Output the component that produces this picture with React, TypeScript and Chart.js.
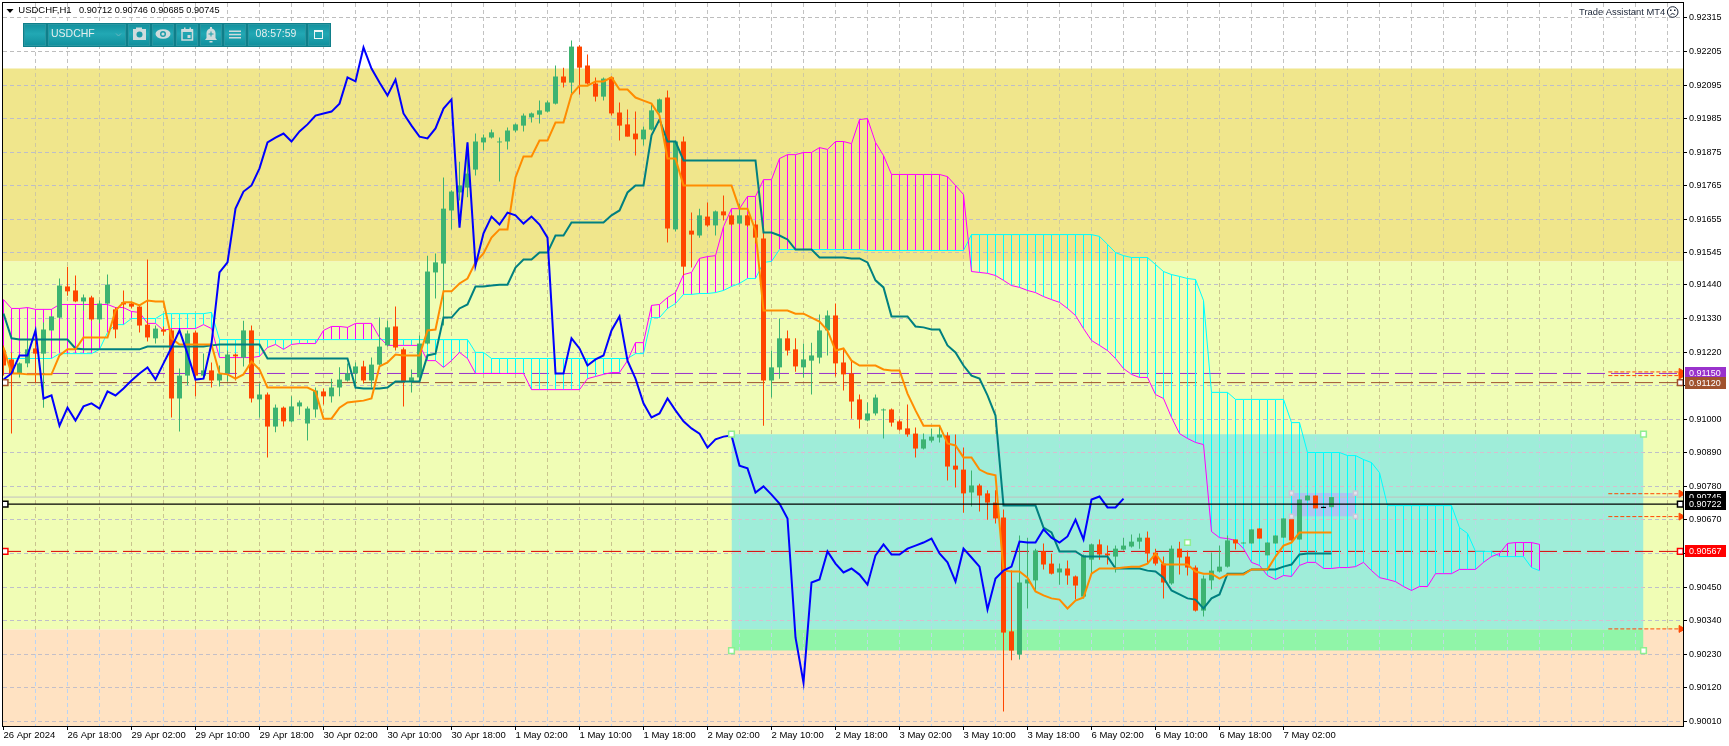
import React, { useEffect, useRef } from "react";
import { Chart, registerables } from "chart.js";

Chart.register(...registerables);

// All prices are written in points (1 point = 0.00001).
const opens = [
91225,91196,91150,91183,91232,91215,91291,91333,91435,91422,
91386,91399,91327,91379,91360,91383,91379,91369,91310,91265,
91294,91291,91068,91143,91284,91143,91160,91127,91150,91212,
91202,91291,91065,91081,90976,91038,90993,91042,90986,91032,
91091,91075,91104,91127,91150,91173,91127,91179,91242,91304,
91229,91124,91137,91248,91481,91510,91684,91743,91759,91818,
91907,91923,91907,91910,91946,91962,91989,91998,92008,92034,
92123,92103,92221,92159,92100,92057,92120,92005,91966,91936,
91917,91949,92005,92054,91622,91910,91618,91602,91664,91635,
91681,91668,91641,91668,91638,91592,91127,91170,91265,91229,
91170,91192,91202,91291,91340,91186,91150,91065,90996,91019,
91029,91032,90993,90970,90953,90904,90930,90940,90947,90848,
90835,90760,90783,90757,90727,90678,90305,90229,90462,90472,
90567,90527,90498,90511,90485,90419,90540,90590,90560,90550,
90573,90583,90599,90612,90563,90527,90462,90576,90550,90514,
90373,90472,90501,90517,90606,90593,90593,90642,90554,90593,
90612,90675,90606,90734,90750,90709,90712];
const closes = [
91176,91150,91183,91229,91215,91294,91337,91438,91419,91386,
91399,91327,91379,91441,91294,91376,91369,91307,91268,91297,
91287,91068,91143,91281,91143,91160,91127,91150,91212,91206,
91291,91068,91081,90976,91038,90993,91042,91055,91035,91094,
91075,91104,91130,91150,91173,91127,91179,91238,91301,91235,
91124,91137,91248,91484,91514,91690,91746,91766,91805,91910,
91923,91940,91910,91946,91966,91995,92002,92012,92038,92123,
92103,92221,92152,92100,92057,92116,92002,91962,91926,91917,
91949,92012,92048,91625,91910,91500,91605,91668,91635,91681,
91668,91638,91668,91635,91595,91127,91170,91265,91225,91173,
91196,91209,91291,91340,91183,91147,91058,90999,91019,91071,
91032,90989,90966,90950,90904,90934,90943,90950,90845,90835,
90757,90783,90750,90727,90675,90301,90242,90465,90475,90570,
90524,90494,90511,90488,90455,90554,90590,90557,90554,90576,
90586,90599,90612,90560,90527,90465,90576,90547,90514,90373,
90478,90504,90517,90603,90593,90596,90639,90609,90596,90619,
90675,90603,90737,90750,90708,90713,90745];
const highs = [
91242,91219,91186,91258,91291,91317,91337,91461,91500,91471,
91409,91405,91389,91474,91366,91422,91386,91373,91523,91307,
91304,91297,91166,91291,91291,91215,91186,91176,91225,91215,
91323,91307,91117,91088,91048,91042,91075,91061,91042,91104,
91101,91133,91170,91183,91186,91192,91202,91333,91323,91369,
91235,91163,91274,91536,91543,91792,91750,91844,91907,91936,
91933,91949,91923,91956,91969,92002,92005,92044,92044,92159,
92152,92241,92225,92195,92120,92120,92123,92038,92015,92008,
91959,92034,92051,92077,91913,91926,91677,91690,91710,91684,
91733,91671,91707,91671,91651,91612,91225,91330,91291,91265,
91248,91251,91343,91356,91379,91229,91192,91081,91055,91081,
91035,91035,90999,91048,90973,90953,90970,90976,90957,90950,
90907,90832,90789,90767,90767,90704,90504,90619,90612,90576,
90593,90560,90527,90537,90488,90557,90593,90606,90586,90586,
90612,90622,90626,90632,90576,90550,90586,90599,90570,90521,
90488,90563,90586,90619,90606,90596,90639,90642,90596,90619,
90675,90675,90737,90750,90750,90713,90745];
const lows = [
91143,90953,91137,91170,91120,91038,91291,91330,91405,91383,
91356,91323,91314,91376,91265,91363,91363,91284,91255,91248,
91274,91006,90960,91111,91075,91133,91104,91107,91124,91127,
91173,91055,91006,90875,90957,90976,90989,91015,90930,91006,
91048,91055,91075,91124,91101,91117,91104,91176,91238,91225,
91042,91088,91133,91245,91396,91307,91622,91717,91727,91799,
91881,91920,91779,91884,91940,91943,91972,91969,92005,92031,
92087,92067,92064,92097,92041,92044,91995,91913,91926,91864,
91897,91946,92002,91579,91615,91471,91497,91595,91631,91602,
91651,91635,91638,91631,91576,90979,91071,91133,91209,91156,
91137,91081,91183,91209,91140,91094,91002,90970,90993,91012,
90937,90976,90963,90943,90875,90901,90924,90924,90799,90776,
90694,90714,90698,90671,90658,90042,90210,90213,90380,90439,
90508,90491,90458,90458,90409,90413,90494,90540,90524,90498,
90570,90580,90576,90527,90521,90413,90458,90491,90488,90370,
90354,90442,90498,90514,90573,90593,90593,90609,90554,90593,
90612,90603,90606,90734,90708,90709,90712];
const chikou = [
91130,91150,91209,91209,91291,91068,91078,90979,91038,90996,
91042,91052,91035,91091,91078,91101,91127,91150,91170,91130,
91183,91235,91291,91215,91130,91133,91248,91481,91514,91690,
91746,91766,91822,91907,91923,91936,91910,91943,91966,91995,
92002,92008,92034,92120,92107,92218,92149,92103,92061,92113,
92002,91962,91926,91920,91953,92018,92048,91628,91907,91504,
91609,91664,91638,91677,91668,91641,91664,91638,91595,91150,
91150,91265,91232,91176,91196,91209,91291,91337,91192,91133,
91052,91006,91019,91068,91029,90993,90970,90953,90907,90934,
90943,90947,90848,90839,90760,90780,90753,90724,90675,90285,
90137,90465,90475,90567,90527,90498,90511,90491,90458,90554,
90590,90557,90557,90576,90586,90596,90609,90560,90531,90468,
90576,90547,90517,90377,90478,90504,90517,90599,90596,90596,
90639,90612,90596,90616,90671,90606,90737,90747,90711,90711,
90740];
const tenkan = [
91235,91150,91150,91147,91147,91147,91147,91209,91229,91229,
91268,91268,91268,91268,91356,91383,91383,91373,91389,91386,
91386,91265,91245,91245,91245,91245,91245,91150,91147,91133,
91147,91189,91163,91104,91104,91104,91104,91104,91104,91091,
91002,91002,91038,91055,91058,91061,91068,91173,91186,91212,
91209,91209,91209,91291,91294,91419,91419,91445,91461,91514,
91543,91595,91622,91622,91792,91861,91861,91913,91913,91972,
91972,92064,92093,92093,92107,92107,92120,92080,92080,92054,
92044,92034,91995,91854,91854,91766,91766,91766,91766,91766,
91766,91766,91690,91690,91618,91356,91356,91356,91356,91346,
91346,91333,91320,91291,91225,91232,91192,91176,91176,91176,
91163,91160,91160,91084,91029,90979,90979,90979,90921,90914,
90875,90875,90835,90822,90816,90504,90501,90501,90481,90436,
90423,90413,90409,90380,90406,90416,90494,90511,90511,90511,
90514,90517,90517,90527,90560,90524,90524,90524,90524,90501,
90494,90494,90478,90491,90491,90491,90508,90508,90508,90550,
90586,90596,90629,90629,90629,90629,90629];
const kijun = [
91346,91265,91261,91261,91261,91261,91261,91261,91261,91232,
91229,91229,91229,91229,91229,91229,91229,91229,91238,91238,
91238,91238,91238,91238,91238,91238,91242,91245,91245,91245,
91245,91245,91245,91199,91199,91199,91199,91199,91199,91199,
91199,91199,91199,91199,91104,91101,91101,91101,91104,91124,
91124,91124,91124,91209,91215,91333,91333,91363,91376,91435,
91435,91438,91441,91441,91497,91523,91523,91546,91546,91602,
91602,91645,91645,91645,91645,91645,91668,91684,91743,91766,
91766,91930,91982,91910,91910,91848,91848,91848,91848,91848,
91848,91848,91848,91848,91848,91612,91612,91602,91589,91556,
91556,91556,91530,91530,91530,91530,91527,91527,91514,91455,
91432,91337,91337,91337,91304,91301,91294,91294,91242,91219,
91176,91143,91133,91078,91012,90717,90717,90717,90717,90717,
90645,90629,90567,90567,90567,90550,90550,90550,90550,90511,
90511,90511,90511,90504,90501,90481,90439,90426,90413,90409,
90380,90413,90426,90494,90494,90494,90508,90508,90508,90508,
90517,90524,90557,90560,90560,90560,90560];
const spanMagenta = [
91392,91363,91363,91366,91360,91360,91360,91376,91376,91376,
91376,91376,91376,91376,91366,91366,91353,91350,91314,91314,
91291,91297,91297,91297,91297,91310,91297,91202,91202,91202,
91202,91202,91206,91235,91245,91229,91245,91248,91248,91248,
91291,91304,91304,91301,91314,91314,91314,91268,91242,91242,
91242,91242,91242,91192,91192,91170,91192,91219,91199,91150,
91150,91150,91150,91150,91150,91150,91097,91097,91097,91097,
91097,91097,91097,91133,91140,91147,91153,91153,91192,91251,
91251,91373,91376,91399,91415,91474,91481,91527,91533,91536,
91631,91690,91690,91730,91730,91785,91785,91854,91867,91867,
91874,91874,91890,91884,91910,91910,91903,91982,91985,91907,
91864,91802,91802,91802,91802,91802,91802,91802,91795,91766,
91736,91484,91481,91478,91471,91455,91438,91432,91422,91415,
91402,91392,91383,91363,91340,91297,91258,91242,91225,91199,
91166,91147,91137,91137,91081,91068,91006,90953,90937,90924,
90917,90632,90612,90609,90603,90576,90531,90521,90488,90475,
90488,90485,90521,90531,90531,90511,90511,90514,90514,90517,
90531,90504,90481,90475,90468,90452,90439,90452,90452,90494,
90494,90494,90508,90508,90508,90531,90550,90560,90593,90596,
90596,90596,90590];
const spanCyan = [
91199,91199,91199,91199,91199,91199,91199,91215,91215,91215,
91215,91215,91229,91284,91310,91310,91330,91330,91330,91330,
91346,91346,91346,91346,91346,91346,91350,91261,91261,91261,
91261,91261,91261,91261,91261,91261,91261,91261,91261,91261,
91261,91261,91261,91261,91261,91261,91261,91261,91261,91261,
91261,91261,91261,91261,91261,91261,91261,91261,91261,91219,
91219,91199,91199,91199,91199,91199,91199,91199,91199,91199,
91199,91199,91199,91199,91199,91199,91199,91199,91199,91215,
91215,91333,91333,91363,91379,91409,91409,91412,91412,91415,
91422,91435,91445,91461,91461,91514,91517,91556,91556,91556,
91556,91556,91556,91556,91556,91556,91556,91556,91553,91553,
91553,91553,91553,91553,91553,91553,91553,91553,91553,91553,
91553,91605,91605,91605,91605,91605,91605,91605,91605,91605,
91605,91605,91605,91605,91605,91605,91605,91599,91573,91546,
91536,91530,91530,91530,91507,91484,91474,91468,91461,91458,
91389,91088,91088,91088,91065,91065,91065,91065,91065,91065,
91065,90989,90989,90891,90891,90891,90891,90891,90881,90881,
90868,90858,90825,90717,90717,90717,90717,90717,90717,90717,
90717,90717,90645,90626,90567,90567,90567,90550,90550,90550,
90550,90514,90504];

const xTickLabels = [
  "26 Apr 2024", "26 Apr 18:00", "29 Apr 02:00", "29 Apr 10:00", "29 Apr 18:00", "30 Apr 02:00", "30 Apr 10:00",
  "30 Apr 18:00", "1 May 02:00", "1 May 10:00", "1 May 18:00", "2 May 02:00", "2 May 10:00", "2 May 18:00",
  "3 May 02:00", "3 May 10:00", "3 May 18:00", "6 May 02:00", "6 May 10:00", "6 May 18:00", "7 May 02:00",
];
const yTickValues = [
  92315, 92205, 92095, 91985, 91875, 91765, 91655, 91545, 91440, 91330, 91220,
  91110, 91000, 90890, 90780, 90670, 90560, 90450, 90340, 90230, 90120, 90010,
];
const priceBoxes = [
  { value: 91150, bg: "#9932CC" },
  { value: 91120, bg: "#A0522D" },
  { value: 90745, bg: "#000000" },
  { value: 90722, bg: "#000000" },
  { value: 90567, bg: "#FF0000" },
];
const khakiZone = [91517, 92149];
const yellowZone = [90311, 91517];
const teal = [90311, 90951];
const overlap = [90242, 90311];
const smallBox = [90682, 90758];
const rectBars = [91, 205];
const smallBars = [161, 169];
const arrowLevels = [91155, 91143, 90756, 90681, 90313];
const arrowBars = [200.6, 209.7];
const bidLevel = 90745;
const purpleLevel = 91150;
const brownLevel = 91120;
const blackLevel = 90722;
const redLevel = 90567;

const X_MIN = -0.0625;
const X_MAX = 209.9375;
const Y_MIN = 89994.9;
const Y_MAX = 92363.8;
const FONT = '"Liberation Sans"';
const GREEN = "#3CB371";
const RED = "#FF4500";
const pr = (p: number) => p / 100000;

const horizontal = (level: number, color: string, order: number, dash: number[] = [], width = 1) => ({
  type: "line" as const,
  data: [{ x: X_MIN, y: pr(level) }, { x: X_MAX, y: pr(level) }],
  borderColor: color,
  borderWidth: width,
  borderDash: dash,
  pointRadius: 0,
  order,
});

const zone = (label: string, range: number[], xr: number[], color: string, order: number) => ({
  type: "line" as const,
  label,
  data: [{ x: xr[0], y: pr(range[1]) }, { x: xr[1], y: pr(range[1]) }],
  borderWidth: 0,
  borderColor: "transparent",
  backgroundColor: color,
  fill: { target: { value: pr(range[0]) }, above: color, below: color },
  pointRadius: 0,
  order,
});

const series = (values: number[], color: string, width: number, order: number) => ({
  type: "line" as const,
  data: values.map((v, i) => ({ x: i, y: pr(v) })),
  borderColor: color,
  borderWidth: width,
  borderJoinStyle: "miter" as const,
  pointRadius: 0,
  tension: 0,
  order,
});

const bars = (data: any[], colors: string[], width: number, order: number) => ({
  type: "bar" as const,
  data,
  backgroundColor: colors,
  maxBarThickness: width,
  barPercentage: 1,
  categoryPercentage: 1,
  grouped: false,
  borderWidth: 0,
  inflateAmount: 0,
  order,
});

const handles = (pts: number[][], color: string, fill: string, order: number, radius = 4) => ({
  type: "line" as const,
  data: pts.map(([x, y]) => ({ x, y: pr(y) })),
  showLine: false,
  pointStyle: "rect",
  pointRadius: radius,
  pointBorderWidth: 1.5,
  pointBorderColor: color,
  pointBackgroundColor: fill,
  order,
});

function bandList(y: any, x: any, area: any) {
  const full = [area.left, area.right];
  const r = [x.getPixelForValue(rectBars[0]), x.getPixelForValue(rectBars[1])];
  return [
    { t: area.top, b: y.getPixelForValue(pr(khakiZone[1])), xr: full, h: "#bdbdbd", v: "#c2c2c2" },
    { t: y.getPixelForValue(pr(khakiZone[1])), b: y.getPixelForValue(pr(khakiZone[0])), xr: full, h: "#bdbdc9", v: "#cfc9a0" },
    { t: y.getPixelForValue(pr(yellowZone[1])), b: y.getPixelForValue(pr(yellowZone[0])), xr: full, h: "#bfbfc9", v: "#c9c48f" },
    { t: y.getPixelForValue(pr(yellowZone[0])), b: area.bottom, xr: full, h: "#c4bfc8", v: "#b9d4f5" },
    { t: y.getPixelForValue(pr(teal[1])), b: y.getPixelForValue(pr(teal[0])), xr: r, h: "#d6bfcf", v: "#b8d8e6" },
    { t: y.getPixelForValue(pr(overlap[1])), b: y.getPixelForValue(pr(overlap[0])), xr: r, h: "#cfc6c4", v: "#bcdce0" },
  ];
}

function drawGrid(chart: any) {
  const { ctx, chartArea: area } = chart;
  const x = chart.scales.x;
  const y = chart.scales.y;
  ctx.save();
  ctx.lineWidth = 1;
  ctx.setLineDash([4, 3]);
  for (const band of bandList(y, x, area)) {
    ctx.save();
    ctx.beginPath();
    ctx.rect(band.xr[0], band.t, band.xr[1] - band.xr[0], band.b - band.t);
    ctx.clip();
    ctx.strokeStyle = band.v;
    for (let i = 4; i <= 208; i += 4) {
      const px = x.getPixelForValue(i);
      ctx.beginPath();
      ctx.moveTo(px, area.top);
      ctx.lineTo(px, area.bottom);
      ctx.stroke();
    }
    ctx.strokeStyle = band.h;
    for (const v of yTickValues) {
      const py = Math.floor(y.getPixelForValue(pr(v))) + 0.5;
      ctx.beginPath();
      ctx.moveTo(area.left, py);
      ctx.lineTo(area.right, py);
      ctx.stroke();
    }
    ctx.restore();
  }
  ctx.restore();
}

function button(ctx: CanvasRenderingContext2D, x0: number, x1: number) {
  const g = ctx.createLinearGradient(0, 23, 0, 47);
  g.addColorStop(0, "#118e9b");
  g.addColorStop(0.45, "#22a8b4");
  g.addColorStop(1, "#0f8d9a");
  ctx.fillStyle = g;
  ctx.fillRect(x0, 24, x1 - x0, 22);
  ctx.strokeStyle = "#2a97a2";
  ctx.lineWidth = 1;
  ctx.strokeRect(x0 + 0.5, 24.5, x1 - x0 - 1, 21);
}

function drawToolbar(ctx: CanvasRenderingContext2D) {
  ctx.save();
  ctx.fillStyle = "#0f7f8a";
  ctx.fillRect(23, 23, 308, 24);
  const xs = [[24, 46], [48, 126], [128, 150], [152, 174], [176, 198], [200, 222], [224, 246], [248, 306], [308, 330]];
  xs.forEach(([a, b]) => button(ctx, a, b));
  const ic = "#cfdcdd";
  ctx.fillStyle = "#e4eeee";
  ctx.font = `10.5px ${FONT}`;
  ctx.textBaseline = "middle";
  ctx.textAlign = "left";
  ctx.fillText("USDCHF", 51, 34.5);
  ctx.textAlign = "center";
  ctx.fillText("08:57:59", 276, 34.5);
  ctx.strokeStyle = "#6bb6bf";
  ctx.lineWidth = 1;
  ctx.beginPath();
  ctx.moveTo(116, 33.5);
  ctx.lineTo(118.5, 36);
  ctx.lineTo(121, 33.5);
  ctx.stroke();
  // camera
  ctx.fillStyle = ic;
  ctx.fillRect(133, 29, 13, 11);
  ctx.fillRect(136, 27.5, 6, 2);
  ctx.fillStyle = "#1c9ba8";
  ctx.beginPath();
  ctx.arc(139.5, 34.5, 3, 0, Math.PI * 2);
  ctx.fill();
  // eye
  ctx.fillStyle = ic;
  ctx.beginPath();
  ctx.ellipse(163, 34, 7.5, 4.8, 0, 0, Math.PI * 2);
  ctx.fill();
  ctx.fillStyle = "#1c9ba8";
  ctx.beginPath();
  ctx.arc(163, 34, 3, 0, Math.PI * 2);
  ctx.fill();
  ctx.fillStyle = ic;
  ctx.beginPath();
  ctx.arc(163, 34, 1.6, 0, Math.PI * 2);
  ctx.fill();
  // calendar
  ctx.strokeStyle = ic;
  ctx.lineWidth = 1.5;
  ctx.strokeRect(182, 30, 10.5, 10);
  ctx.fillStyle = ic;
  ctx.fillRect(181.5, 29, 11.5, 3);
  ctx.fillRect(184, 27.5, 1.5, 2);
  ctx.fillRect(189.5, 27.5, 1.5, 2);
  ctx.fillRect(187.5, 35, 3, 3);
  // bell
  ctx.beginPath();
  ctx.arc(211, 33, 4.5, Math.PI, 0);
  ctx.lineTo(215.5, 38);
  ctx.lineTo(217, 40);
  ctx.lineTo(205, 40);
  ctx.lineTo(206.5, 38);
  ctx.closePath();
  ctx.fill();
  ctx.fillRect(210, 27, 2, 2);
  ctx.fillRect(209.5, 41, 3, 1.5);
  ctx.fillStyle = "#1c9ba8";
  ctx.fillRect(208.5, 33.5, 5, 1);
  ctx.fillRect(210.5, 31.5, 1, 5);
  // menu
  ctx.fillStyle = ic;
  ctx.fillRect(229, 30.5, 12, 1.5);
  ctx.fillRect(229, 33.8, 12, 1.5);
  ctx.fillRect(229, 37, 12, 1.5);
  // restore
  ctx.strokeStyle = "#eef5f5";
  ctx.lineWidth = 1;
  ctx.strokeRect(314.5, 30.5, 8, 8);
  ctx.fillStyle = "#eef5f5";
  ctx.fillRect(314, 30, 9, 2);
  ctx.restore();
}

const overlayPlugin = {
  id: "overlay",
  afterDatasetDraw(chart: any, args: any) {
    if (chart.data.datasets[args.index].label === "overlap") drawGrid(chart);
  },
  afterDraw(chart: any) {
    const { ctx, chartArea: area } = chart;
    const y = chart.scales.y;
    ctx.save();
    ctx.strokeStyle = "#000";
    ctx.lineWidth = 1;
    ctx.strokeRect(area.left - 0.5, area.top - 0.5, area.right - area.left + 1, area.bottom - area.top + 1);

    priceBoxes.forEach((b) => {
      const py = y.getPixelForValue(pr(b.value));
      ctx.fillStyle = b.bg;
      ctx.fillRect(1685, Math.round(py) - 6, 41, 12);
      ctx.fillStyle = "#fff";
      ctx.font = `9px ${FONT}`;
      ctx.textBaseline = "middle";
      ctx.textAlign = "left";
      ctx.fillText((b.value / 100000).toFixed(5), 1689, Math.round(py) + 0.5);
    });

    ctx.fillStyle = "#000";
    ctx.beginPath();
    ctx.moveTo(6.5, 9);
    ctx.lineTo(13.5, 9);
    ctx.lineTo(10, 13);
    ctx.closePath();
    ctx.fill();
    ctx.textBaseline = "middle";
    ctx.textAlign = "left";
    ctx.font = `9.5px ${FONT}`;
    ctx.fillText("USDCHF,H1", 18.3, 10.5);
    ctx.font = `9.2px ${FONT}`;
    ctx.fillText("0.90712 0.90746 0.90685 0.90745", 79, 10.5);

    ctx.fillStyle = "#1a2436";
    ctx.font = `9.4px ${FONT}`;
    ctx.fillText("Trade Assistant MT4", 1579, 12);
    ctx.strokeStyle = "#1a2436";
    ctx.beginPath();
    ctx.arc(1672.7, 12, 5.3, 0, Math.PI * 2);
    ctx.stroke();
    ctx.fillRect(1670, 9.5, 1.5, 1.5);
    ctx.fillRect(1674, 9.5, 1.5, 1.5);
    ctx.beginPath();
    ctx.arc(1672.7, 16.5, 2.8, Math.PI * 1.2, Math.PI * 1.8);
    ctx.stroke();
    ctx.restore();
    drawToolbar(ctx);
  },
};

const noPadding = (s: any) => {
  s.paddingTop = 0;
  s.paddingBottom = 0;
  s.paddingLeft = 0;
  s.paddingRight = 0;
};

export default function App() {
  const ref = useRef<HTMLCanvasElement>(null);
  useEffect(() => {
    const fullX = [X_MIN, X_MAX];
    const bodyColors = closes.map((c, i) =>
      i === 165 ? "#000000" : c >= opens[i] ? GREEN : RED
    );
    const hatchColors = spanMagenta.map((m, i) => (m > spanCyan[i] ? "#FF00FF" : "#00FFFF"));
    const arrows = arrowLevels.map((lvl) => ({
      type: "line" as const,
      data: arrowBars.map((x) => ({ x, y: pr(lvl) })),
      borderColor: RED,
      borderWidth: 1,
      borderDash: [4, 2],
      pointStyle: "triangle",
      pointRotation: 90,
      pointRadius: [0, 4],
      pointBackgroundColor: RED,
      pointBorderColor: RED,
      order: 49,
    }));
    const datasets: any[] = [
      zone("khaki", khakiZone, fullX, "#F0E68C", 100),
      zone("yellow", yellowZone, fullX, "#F0FDB5", 99),
      zone("peach", [Y_MIN, yellowZone[0]], fullX, "#FFE2C2", 98),
      zone("teal", teal, rectBars, "#9FEDD9", 97),
      zone("overlap", overlap, rectBars, "#90F5A8", 96),
      zone("small", smallBox, smallBars, "#B0C4F0", 95),
      horizontal(bidLevel, "#C0C0C0", 90),
      horizontal(purpleLevel, "#9932CC", 89, [18, 6]),
      horizontal(brownLevel, "#A0522D", 89, [18, 6]),
      horizontal(redLevel, "#DD0000", 89, [18, 6]),
      bars(spanMagenta.map((m, i) => ({ x: i, y: [pr(m), pr(spanCyan[i])] })), hatchColors, 1, 80),
      series(spanCyan, "#00FFFF", 1, 79),
      series(spanMagenta, "#FF00FF", 1, 78),
      bars(lows.map((l, i) => ({ x: i, y: [pr(l), pr(highs[i])] })), bodyColors, 1, 70),
      bars(opens.map((o, i) => ({ x: i, y: [pr(o), pr(closes[i])] })), bodyColors, 5, 69),
      series(kijun, "#008080", 2, 60),
      series(tenkan, "#FF8C00", 2, 59),
      series(chikou, "#0000FF", 2, 58),
      horizontal(blackLevel, "#000000", 50, [], 1.4),
      ...arrows,
      handles([[0.2, brownLevel], [209.6, brownLevel]], "#A0522D", "#FFFFFF", 48),
      handles([[0.2, blackLevel], [209.6, blackLevel]], "#000000", "#FFFFFF", 48),
      handles([[0.2, redLevel], [209.6, redLevel]], "#FF0000", "#FFFFFF", 48),
      handles(
        [[91, teal[1]], [205, teal[1]], [205, overlap[0]], [91, overlap[0]], [148, 90596]],
        "#90EE90",
        "#FFFFFF",
        48
      ),
      handles(
        [[smallBars[0], smallBox[1]], [smallBars[1], smallBox[1]], [smallBars[0], smallBox[0]], [smallBars[1], smallBox[0]]],
        "#C8C8D8",
        "#E4E4EC",
        48,
        3
      ),
    ];
    const chart = new Chart(ref.current as HTMLCanvasElement, {
      type: "bar",
      data: { datasets },
      plugins: [overlayPlugin],
      options: {
        animation: false,
        responsive: false,
        devicePixelRatio: 1,
        layout: { autoPadding: false, padding: { left: 3, top: 3, right: 0, bottom: 0 } },
        plugins: { legend: { display: false }, tooltip: { enabled: false } },
        scales: {
          x: {
            type: "linear",
            position: "bottom",
            offset: false,
            min: X_MIN,
            max: X_MAX,
            afterBuildTicks: (s: any) => {
              s.ticks = xTickLabels.map((_, k) => ({ value: 8 * k }));
            },
            afterFit: (s: any) => {
              s.height = 20;
              noPadding(s);
            },
            border: { display: false },
            grid: { offset: false, drawOnChartArea: false, color: "#000", tickColor: "#000", tickLength: 4 },
            ticks: {
              autoSkip: false,
              maxRotation: 0,
              minRotation: 0,
              align: "start",
              padding: 0,
              color: "#000",
              font: { family: FONT, size: 9.5 },
              callback: (v: any) => xTickLabels[Math.round(v / 8)] ?? "",
            },
          },
          y: {
            type: "linear",
            position: "right",
            min: pr(Y_MIN),
            max: pr(Y_MAX),
            afterBuildTicks: (s: any) => {
              s.ticks = yTickValues.map((v) => ({ value: pr(v) }));
            },
            afterFit: (s: any) => {
              s.width = 46;
              noPadding(s);
            },
            border: { display: false },
            grid: { drawOnChartArea: false, color: "#000", tickColor: "#000", tickLength: 4 },
            ticks: {
              autoSkip: false,
              padding: 2,
              color: "#000",
              font: { family: FONT, size: 9 },
              callback: (v: any) => Number(v).toFixed(5),
            },
          },
        },
      },
    } as any);
    return () => chart.destroy();
  }, []);
  return (
    <div style={{ position: "fixed", left: 0, top: 0, width: 1729, height: 746, background: "#fff" }}>
      <canvas ref={ref} width={1729} height={746} style={{ display: "block", width: 1729, height: 746 }} />
    </div>
  );
}
